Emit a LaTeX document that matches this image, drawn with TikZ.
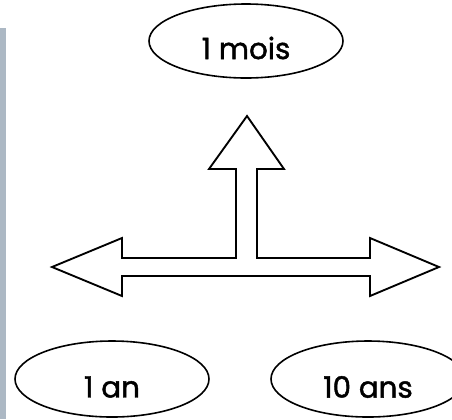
\documentclass[tikz,border=0pt]{standalone}
\usepackage{fontspec}
\setmainfont{Poppins}[FakeBold=1.5]
\usepackage{tikz}

\tikzset{
  duree/.style={inner sep=0pt, font=\fontsize{22}{26}\selectfont},
  bord/.style={draw, line width=1.2pt},
  fleche/.style={draw, line width=1.4pt, line join=miter}
}

\begin{document}
\begin{tikzpicture}[x=0.75pt,y=0.75pt,yscale=-1,xscale=1]
\useasboundingbox (0,0) rectangle (452,419);
\clip (0,0) rectangle (452,419);

%Shape: Rectangle (scan border)
\fill [color={rgb, 255:red, 172; green, 184; blue, 196 }] (0,28) rectangle (6,419);

%Shape: Arrow (three ways)
\draw [fleche] (236,258) -- (236,169) -- (209,169) -- (247,116) -- (284,169) -- (257,169) -- (257,258) -- (370,258) -- (370,238) -- (439,267) -- (370,296) -- (370,276) -- (122,276) -- (122,296) -- (52,267) -- (122,238) -- (122,258) -- cycle ;

%Shape: Ellipse
\draw [bord] (246,41) ellipse [x radius=97, y radius=37];
%Shape: Ellipse
\draw [bord] (112,379) ellipse [x radius=97, y radius=38];
%Shape: Ellipse
\draw [bord] (368,379) ellipse [x radius=97, y radius=38];

% Text Node
\node [duree] (mois) at (246,48) {1 mois};
% Text Node
\node [duree] (an) at (112,387) {1 an};
% Text Node
\node [duree] (dixans) at (368,387) {10 ans};

\end{tikzpicture}
\end{document}
